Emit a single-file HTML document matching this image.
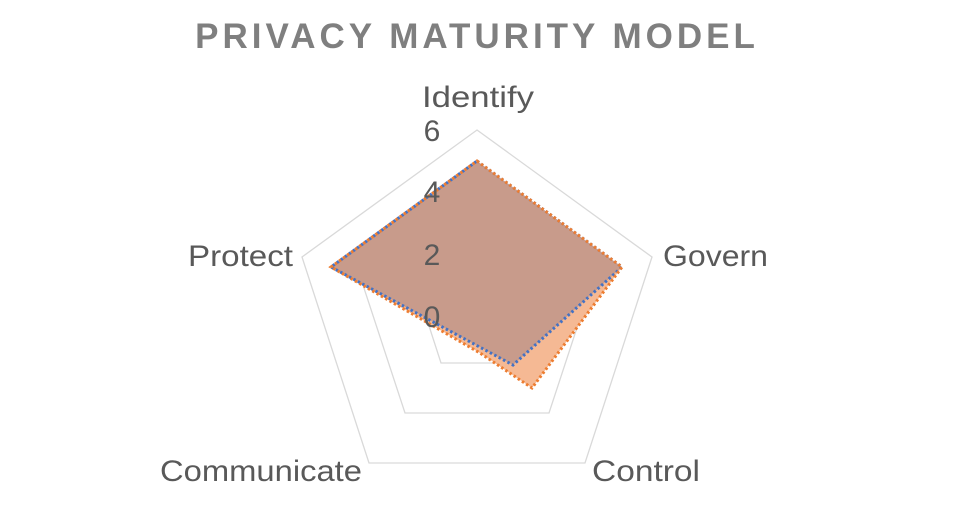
<!DOCTYPE html>
<html><head><meta charset="utf-8"><style>
html,body{margin:0;padding:0;background:#fff;}
svg{display:block;font-family:"Liberation Sans",sans-serif;}
</style></head><body>
<svg width="956" height="506" viewBox="0 0 956 506" xmlns="http://www.w3.org/2000/svg">
<text x="477" y="48" text-anchor="middle" font-size="35" font-weight="bold" fill="#7f7f7f" letter-spacing="4">PRIVACY MATURITY MODEL</text>
<g fill="none" stroke="#d9d9d9" stroke-width="1.3">
<polygon points="477,130 652,257 585,463 369,463 302,257"/>
<polygon points="477,191 594,276 549,413 405,413 360,276"/>
<polygon points="477,253 535,295 513,363 441,363 419,295"/>
</g>
<polygon points="477,161 622,267 532,388 480,353 331,267" fill="#f5b994"/>
<polygon points="477,161 622,267 513,365 331,267" fill="#c89b8b"/>
<polygon points="477,161 622,267 513,365 331,267" fill="none" stroke="#4472c4" stroke-width="3" stroke-dasharray="2.5,2.5"/>
<polygon points="477,161 622,267 532,388 480,353 331,267" fill="none" stroke="#ed7d31" stroke-width="3" stroke-dasharray="2.5,2.5"/>
<g font-size="30" fill="#595959">
<text x="432" y="327" text-anchor="middle">0</text>
<text x="432" y="265" text-anchor="middle">2</text>
<text x="432" y="202" text-anchor="middle">4</text>
<text x="432" y="141" text-anchor="middle">6</text>
<text x="478" y="107" text-anchor="middle" textLength="112" lengthAdjust="spacingAndGlyphs">Identify</text>
<text x="663" y="266" textLength="105" lengthAdjust="spacingAndGlyphs">Govern</text>
<text x="592" y="481" textLength="108" lengthAdjust="spacingAndGlyphs">Control</text>
<text x="160" y="481" textLength="202" lengthAdjust="spacingAndGlyphs">Communicate</text>
<text x="188" y="266" textLength="105" lengthAdjust="spacingAndGlyphs">Protect</text>
</g>
</svg>
</body></html>
